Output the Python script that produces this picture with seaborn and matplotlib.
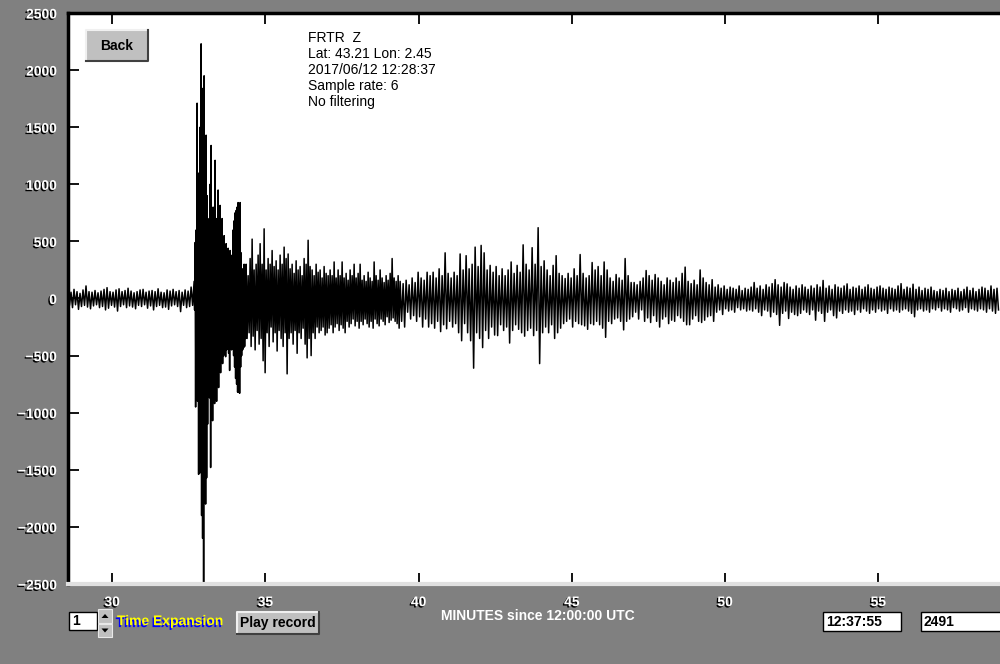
import matplotlib
matplotlib.use("Agg")
import matplotlib.pyplot as plt
import matplotlib.patheffects as pe
from matplotlib.patches import Rectangle, Polygon
import numpy as np
import pandas as pd
import seaborn as sns

# seismogram read from the screen, as (upper, lower) extent per time bin
# each segment: start minute, end minute, highs, lows
pre_bounds = (28.56, 32.675)
pre_hi = [70, 55, 80, 60, 45, 75, 110, 60, 55, 70, 50, 65, 80, 95, 60, 55, 75, 85, 60, 70, 90,
          65, 50, 60, 75, 80, 55, 65, 70, 60, 85, 55, 50, 75, 65, 80, 60, 70, 55, 75, 65, 100]
pre_lo = [-60, -80, -55, -95, -70, -60, -75, -90, -65, -55, -80, -70, -100, -85, -60, -75, -110,
          -70, -55, -80, -65, -75, -90, -60, -70, -55, -85, -65, -100, -70, -60, -80, -75, -95,
          -65, -55, -70, -115, -60, -80, -70, -60]

event_bounds = (32.675, 34.372)
event_hi = [150, 490, 600, 1710, 900, 1100, 1500, 2230, 1840, 1740, 1950, 1200, 1430, 900, 600,
            700, 1000, 1340, 650, 800, 600, 1210, 700, 550, 950, 600, 815, 500, 700, 400, 550,
            350, 480, 300, 440, 250, 420, 300, 380, 600, 680, 750, 770, 800, 840, 700, 840, 400,
            260, 175, 300, 250]
event_lo = [-100, -950, -700, -900, -1540, -1530, -1400, -1900, -2100, -2490, -1600, -1800, -1570,
            -1100, -860, -870, -1480, -700, -1070, -800, -920, -750, -900, -700, -780, -600, -650,
            -550, -570, -500, -480, -510, -450, -400, -480, -630, -380, -450, -350, -500, -600,
            -700, -750, -820, -820, -830, -600, -500, -450, -430, -420, -350]

surface_bounds = (34.372, 39.397)
surface_hi = [300, 200, 350, 520, 250, 300, 380, 480, 300, 610, 250, 350, 300, 420, 280, 330, 250,
              380, 300, 450, 350, 390, 260, 300, 220, 330, 250, 280, 200, 350, 300, 510, 280, 250,
              200, 300, 230, 250, 180, 280, 220, 200, 250, 200, 320, 180, 250, 200, 320, 180, 220,
              160, 250, 200, 300, 180, 220, 300, 160, 200, 150, 230, 180, 150, 320, 200, 160, 250,
              180, 140, 200, 160, 220, 350, 180, 150, 200]
surface_lo = [-350, -300, -420, -330, -450, -280, -400, -350, -545, -650, -300, -420, -250, -380,
              -300, -460, -280, -350, -420, -300, -660, -350, -300, -400, -280, -480, -300, -350,
              -260, -400, -520, -350, -500, -300, -350, -250, -300, -280, -250, -320, -300, -260,
              -230, -300, -250, -220, -280, -230, -260, -300, -200, -250, -220, -180, -240, -200,
              -260, -200, -230, -180, -220, -250, -200, -260, -180, -220, -240, -180, -200, -230,
              -160, -210, -190, -170, -200, -220, -260]

coda_bounds = (39.397, 50.85)
coda_hi = [150, 130, 160, 120, 180, 140, 230, 180, 160, 230, 200, 230, 180, 260, 200, 400, 220, 180,
           230, 200, 390, 250, 375, 260, 300, 450, 280, 465, 400, 250, 290, 230, 280, 200, 260,
           200, 250, 320, 220, 290, 230, 470, 300, 250, 445, 300, 620, 280, 330, 250, 200, 290,
           375, 220, 200, 175, 220, 180, 260, 200, 385, 220, 180, 200, 315, 250, 280, 200, 320,
           250, 180, 150, 210, 180, 160, 350, 200, 140, 140, 120, 150, 180, 245, 200, 160, 210,
           180, 150, 120, 180, 160, 140, 180, 150, 220, 275, 150, 130, 160, 120, 250, 180, 140,
           120, 165, 100, 120, 90, 110, 80, 100, 90, 80, 110, 70, 90, 80]
coda_lo = [-200, -250, -120, -180, -150, -200, -160, -250, -180, -250, -220, -260, -200, -290, -230,
           -265, -200, -250, -220, -300, -370, -220, -300, -370, -610, -300, -350, -430, -280,
           -350, -250, -320, -325, -230, -280, -250, -390, -280, -230, -270, -300, -330, -280,
           -260, -325, -280, -570, -300, -250, -300, -230, -350, -300, -260, -220, -200, -180,
           -250, -200, -220, -230, -240, -270, -220, -230, -200, -230, -260, -340, -200, -220,
           -180, -170, -200, -275, -200, -180, -160, -120, -180, -100, -200, -170, -210, -150,
           -200, -250, -180, -160, -220, -190, -200, -150, -170, -200, -230, -230, -180, -150,
           -200, -210, -190, -160, -150, -200, -120, -100, -140, -90, -110, -100, -120, -80, -100,
           -90, -110, -100]

tail_bounds = (50.85, 58.97)
tail_hi = [100, 140, 90, 110, 80, 120, 100, 130, 165, 120, 100, 140, 128, 100, 80, 110, 90, 120,
           100, 80, 110, 90, 120, 100, 158, 90, 110, 80, 120, 100, 90, 110, 128, 80, 100, 90, 110,
           80, 100, 120, 90, 80, 100, 110, 90, 80, 100, 90, 80, 110, 130, 80, 100, 90, 125, 80,
           100, 70, 90, 80, 100, 70, 60, 80, 70, 90, 60, 80, 70, 90, 60, 80, 100, 70, 90, 60, 80,
           100, 90, 70, 110, 80, 90]
tail_lo = [-110, -90, -120, -150, -100, -110, -160, -120, -140, -235, -130, -110, -175, -120, -140,
           -150, -130, -100, -120, -140, -100, -190, -110, -130, -200, -120, -100, -150, -170,
           -110, -130, -100, -120, -110, -140, -100, -120, -90, -110, -130, -100, -120, -90, -110,
           -100, -130, -90, -110, -100, -120, -100, -90, -110, -130, -160, -100, -90, -110, -100,
           -120, -90, -100, -80, -110, -90, -100, -120, -80, -90, -110, -100, -80, -120, -90, -100,
           -110, -90, -100, -120, -90, -110, -130, -100]

x_ticks = [30, 35, 40, 45, 50, 55]
y_ticks = [2500, 2000, 1500, 1000, 500, 0, -500, -1000, -1500, -2000, -2500]

info_lines = ["FRTR  Z", "Lat: 43.21 Lon: 2.45", "2017/06/12 12:28:37", "Sample rate: 6", "No filtering"]

# build one long trace: high, low, high, low ... inside every segment
frames = []
for bounds, hi, lo in [(pre_bounds, pre_hi, pre_lo), (event_bounds, event_hi, event_lo),
                       (surface_bounds, surface_hi, surface_lo), (coda_bounds, coda_hi, coda_lo),
                       (tail_bounds, tail_hi, tail_lo)]:
    vals = np.empty(2 * len(hi))
    vals[0::2] = hi
    vals[1::2] = lo
    times = np.linspace(bounds[0], bounds[1], len(vals), endpoint=False)
    frames.append(pd.DataFrame({"minutes": times, "counts": vals}))
trace = pd.concat(frames, ignore_index=True)

W, H = 1000, 664
GRAY = "#808080"
fig = plt.figure(figsize=(W / 100, H / 100), dpi=100, facecolor=GRAY)
ax = fig.add_axes([68 / W, 1 - 584 / H, 1 - 68 / W, (584 - 13) / H])
ax.set_facecolor("white")

sns.lineplot(data=trace, x="minutes", y="counts", ax=ax, color="black", linewidth=1.1,
             estimator=None, errorbar=None)

ax.set_xlim(28.56, 58.97)
ax.set_ylim(-2500, 2500)
ax.set_xticks(x_ticks)
ax.set_yticks(y_ticks)
ax.set_xlabel("")
ax.set_ylabel("")
ax.tick_params(axis="x", direction="in", top=True, bottom=True, length=8, width=1.3,
               color="black", pad=8)
ax.tick_params(axis="y", direction="in", left=True, right=False, length=8, width=1.3,
               color="black", pad=8)

shadow = [pe.SimplePatchShadow(offset=(-1, -1), shadow_rgbFace="black", alpha=1), pe.Normal()]
for lab in ax.get_yticklabels() + ax.get_xticklabels():
    lab.set_color("white")
    lab.set_fontweight("bold")
    lab.set_fontfamily("Liberation Sans")
    lab.set_fontsize(10)
    lab.set_path_effects(shadow)

for side in ["left", "top"]:
    ax.spines[side].set_color("black")
    ax.spines[side].set_linewidth(2.5)
ax.spines["right"].set_visible(False)
ax.spines["bottom"].set_color("#e0e0e0")
ax.spines["bottom"].set_linewidth(3)


def px(x, y):
    return x / W, 1 - y / H


def button(x0, y0, x1, y1, label, size=10):
    fig.add_artist(Rectangle(px(x0, y1), (x1 - x0) / W, (y1 - y0) / H, transform=fig.transFigure,
                             facecolor="#c0c0c0", edgecolor="none"))
    fig.add_artist(plt.Line2D([x0 / W, x0 / W, x1 / W], [1 - y1 / H, 1 - y0 / H, 1 - y0 / H],
                              transform=fig.transFigure, color="#f0f0f0", linewidth=1.5))
    fig.add_artist(plt.Line2D([x0 / W, x1 / W, x1 / W], [1 - y1 / H, 1 - y1 / H, 1 - y0 / H],
                              transform=fig.transFigure, color="#404040", linewidth=1.5))
    fig.text(*px((x0 + x1) / 2, (y0 + y1) / 2), label, ha="center", va="center", fontsize=size,
             family="Liberation Sans", fontweight="bold", color="black")


def white_box(x0, y0, x1, y1, label):
    fig.add_artist(Rectangle(px(x0, y1), (x1 - x0) / W, (y1 - y0) / H, transform=fig.transFigure,
                             facecolor="white", edgecolor="black", linewidth=1))
    fig.text(*px(x0 + 3, (y0 + y1) / 2), label, ha="left", va="center", fontsize=10,
             family="Liberation Sans", fontweight="bold", color="black")


button(86, 30, 148, 61, "Back", size=10)

for i, line in enumerate(info_lines):
    fig.text(*px(308, 38 + 16 * i), line, ha="left", va="center", fontsize=10,
             family="Liberation Sans", color="black")

# bottom controls
white_box(69, 612, 97, 630, "1")
for y0, y1, up in [(609, 623, True), (624, 637, False)]:
    fig.add_artist(Rectangle(px(98, y1), 14 / W, (y1 - y0) / H, transform=fig.transFigure,
                             facecolor="#c0c0c0", edgecolor="#e8e8e8", linewidth=0.8))
    cx, cy = 105, (y0 + y1) / 2
    if up:
        tri = [px(cx - 3.5, cy + 2), px(cx + 3.5, cy + 2), px(cx, cy - 2)]
    else:
        tri = [px(cx - 3.5, cy - 2), px(cx + 3.5, cy - 2), px(cx, cy + 2)]
    fig.add_artist(Polygon(tri, closed=True, transform=fig.transFigure, facecolor="black",
                           edgecolor="none"))

fig.text(*px(117, 621), "Time Expansion", ha="left", va="center", fontsize=10,
         family="Liberation Sans", fontweight="bold", color="yellow",
         path_effects=[pe.SimplePatchShadow(offset=(-1, -1.5), shadow_rgbFace="blue", alpha=1),
                       pe.Normal()])

button(237, 612, 319, 634, "Play record", size=10)

fig.text(*px(538, 616), "MINUTES since 12:00:00 UTC", ha="center", va="center", fontsize=10,
         family="Liberation Sans", fontweight="bold", color="white")

white_box(823, 612, 901, 631, "12:37:55")
white_box(921, 612, 1003, 631, "2491")

fig.savefig("out.png", dpi=100, facecolor=GRAY)
